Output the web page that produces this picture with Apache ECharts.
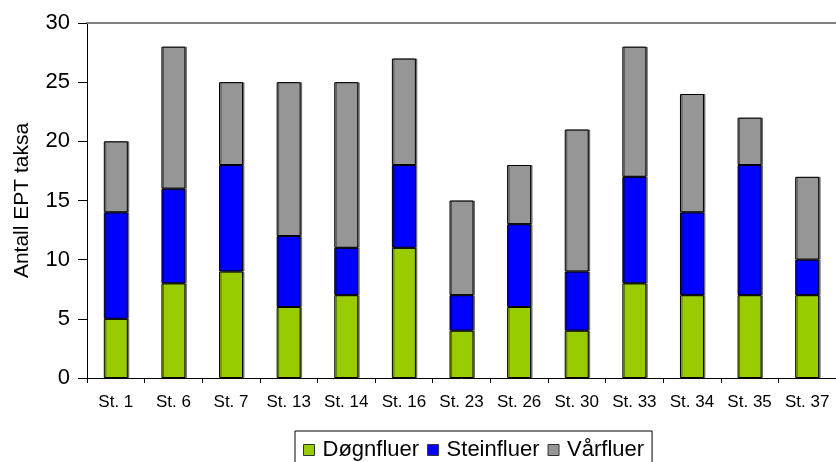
<!DOCTYPE html>
<html><head><meta charset="utf-8">
<script src="https://cdn.jsdelivr.net/npm/echarts@6/dist/echarts.min.js"></script>
<style>html,body{margin:0;padding:0;background:#fff}#c{width:836px;height:462px}</style>
</head><body><div id="c"></div>
<script>
const categories = ['St. 1','St. 6','St. 7','St. 13','St. 14','St. 16','St. 23','St. 26','St. 30','St. 33','St. 34','St. 35','St. 37'];
const dognfluer  = [5, 8, 9, 6, 7, 11, 4, 6, 4, 8, 7, 7, 7];
const steinfluer = [9, 8, 9, 6, 4, 7, 3, 7, 5, 9, 7, 11, 3];
const varfluer   = [6, 12, 7, 13, 14, 9, 8, 5, 12, 11, 10, 4, 7];
const seriesNames = ['Døgnfluer','Steinfluer','Vårfluer'];
const colors = ['#99CC00','#0000FF','#969696'];
const yTicks = {min: 0, max: 30, interval: 5};

const font = 'Liberation Sans, Arial, sans-serif';
const chart = echarts.init(document.getElementById('c'));
const data = [dognfluer, steinfluer, varfluer];
chart.setOption({
  animation: false,
  textStyle: {fontFamily: font},
  grid: {left: 87, right: 0, top: 23, bottom: 84},
  legend: {
    top: 431, left: 295,
    data: seriesNames,
    icon: 'rect', itemWidth: 11, itemHeight: 11, itemGap: 8,
    borderColor: '#000', borderWidth: 1, padding: [8, 8, 12, 8],
    itemStyle: {borderColor: '#333', borderWidth: 1},
    textStyle: {fontSize: 22, color: '#000', fontFamily: font, padding: [0, 0, 0, 3]}
  },
  xAxis: [{
    type: 'category', data: categories,
    axisLine: {lineStyle: {color: '#000', width: 1}},
    axisTick: {show: true, length: 5, lineStyle: {color: '#000'}},
    axisLabel: {fontSize: 17, color: '#000', margin: 16, fontFamily: font, interval: 0, hideOverlap: false}
  }, {
    type: 'category', data: categories, position: 'top',
    axisLine: {lineStyle: {color: '#808080', width: 2}},
    axisTick: {show: false}, axisLabel: {show: false}
  }],
  yAxis: {
    type: 'value', min: yTicks.min, max: yTicks.max, interval: yTicks.interval,
    name: 'Antall EPT taksa', nameLocation: 'middle', nameGap: 54,
    nameTextStyle: {fontSize: 21, color: '#000', fontFamily: font},
    axisLine: {show: true, lineStyle: {color: '#000', width: 1}},
    axisTick: {show: true, length: 9, lineStyle: {color: '#000'}},
    axisLabel: {fontSize: 22, color: '#000', margin: 17, fontFamily: font},
    splitLine: {show: false}
  },
  series: seriesNames.map((n, i) => ({
    name: n, type: 'bar', stack: 'tot', data: data[i],
    barWidth: 24,
    itemStyle: {color: colors[i], borderColor: '#000', borderWidth: 1,
      shadowColor: 'rgba(0,0,0,0.45)', shadowOffsetX: 1.5, shadowBlur: 0}
  }))
});
</script></body></html>
